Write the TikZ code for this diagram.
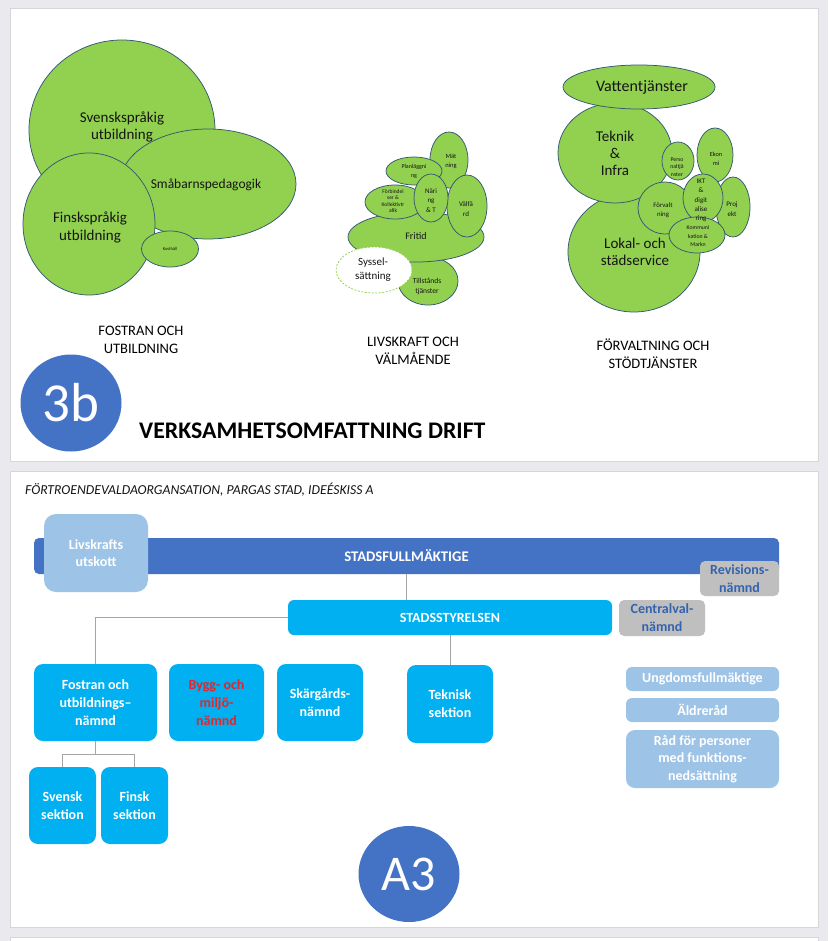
\documentclass[tikz,border=0pt]{standalone}
\usepackage{fontspec}
\setmainfont{Carlito}
\usetikzlibrary{shapes.geometric}
\definecolor{pagebg}{HTML}{EAEAEE}
\definecolor{slideedge}{HTML}{D6D6DA}
\definecolor{grn}{HTML}{92D050}
\definecolor{grnline}{HTML}{355872}
\definecolor{circblue}{HTML}{4472C4}
\definecolor{cyanbox}{HTML}{00B0F0}
\definecolor{lightbox}{HTML}{9DC3E6}
\definecolor{graybox}{HTML}{BFBFBF}
\definecolor{revtext}{HTML}{3463AE}
\definecolor{redtext}{HTML}{E0262E}
\definecolor{conncol}{HTML}{A5A5A5}
\definecolor{inktext}{HTML}{151515}
\newcommand{\fsz}[2]{\fontsize{#1}{#2}\selectfont}
\tikzset{
  blob/.style={ellipse, draw=grnline, fill=grn, line width=0.75pt, inner sep=0pt},
  dashblob/.style={ellipse, draw=grn, fill=white, line width=0.7pt, dash pattern=on 2pt off 1.5pt, inner sep=0pt},
  txt/.style={align=center, inner sep=0pt, text=inktext},
  caption/.style={align=center, inner sep=0pt, text=black, font=\fsz{14.5}{18}},
  badge/.style={ellipse, fill=circblue, inner sep=0pt, text=white},
  orgbox/.style={rectangle, rounded corners=9pt, fill=cyanbox, inner sep=0pt, align=center, text=white, font=\fsz{14}{18}\bfseries},
  lightbox/.style={rectangle, rounded corners=6pt, fill=lightbox, inner sep=0pt, align=center, text=white, font=\fsz{14}{17.5}\bfseries},
  graybox/.style={rectangle, rounded corners=5pt, fill=graybox, inner sep=0pt, align=center, text=revtext, font=\fsz{14}{18}\bfseries},
  conn/.style={draw=conncol, line width=1pt}
}
\begin{document}
\begin{tikzpicture}[x=1pt,y=-1pt]
\useasboundingbox (0,0) rectangle (828,941);
\fill[pagebg] (0,0) rectangle (828,941);
% slides
\filldraw[fill=white, draw=slideedge, line width=0.8pt] (10,8) rectangle (818,461);
\filldraw[fill=white, draw=slideedge, line width=0.8pt] (10,471) rectangle (818,927);
\filldraw[fill=white, draw=slideedge, line width=0.8pt] (10,937) rectangle (818,945);

% ===== Fostran och utbildning =====
\node[blob, minimum width=186pt, minimum height=180pt] (sv) at (122,130) {};
\node[blob, minimum width=176pt, minimum height=110pt] (sm) at (208,184) {};
\node[blob, minimum width=132pt, minimum height=142pt] (fi) at (89,224) {};
\node[blob, minimum width=57pt, minimum height=36pt] (ko) at (170,249) {};
\node[txt, font=\fsz{15}{17}] (svT) at (122,126.5) {Svenskspråkig\\utbildning};
\node[txt, font=\fsz{13.5}{16}] (smT) at (206,185) {Småbarnspedagogik};
\node[txt, font=\fsz{15}{18}] (fiT) at (90,227) {Finskspråkig\\utbildning};
\node[txt, font=\fsz{4.5}{5}] (koT) at (170,249) {Kosthåll};
\node[caption] (cap1) at (141,340) {FOSTRAN OCH\\UTBILDNING};

% ===== Livskraft och välmående =====
\node[blob, minimum width=60pt, minimum height=48pt] (tl) at (428,281) {};
\node[blob, minimum width=136pt, minimum height=50pt] (fr) at (416,237) {};
\node[blob, minimum width=38pt, minimum height=56pt] (mt) at (449,160) {};
\node[blob, minimum width=56pt, minimum height=28pt] (pl) at (414,171) {};
\node[blob, minimum width=40pt, minimum height=62pt] (vf) at (467,206) {};
\node[blob, minimum width=60pt, minimum height=34pt] (fb) at (395,202) {};
\node[blob, minimum width=34pt, minimum height=48pt] (na) at (431,198) {};
\node[dashblob, minimum width=76pt, minimum height=46pt] (sy) at (374,270) {};
\node[txt, font=\fsz{6.5}{9}] (mtT) at (451,161) {Mät\\ning};
\node[txt, font=\fsz{6}{8.5}] (plT) at (414,171.5) {Planläggni\\ng};
\node[txt, font=\fsz{5.5}{6.5}] (fbT) at (393,201) {Förbindel\\ser \&\\Kollektivtr\\afik};
\node[txt, font=\fsz{7}{9.5}] (naT) at (431,200.5) {Näri\\ng\\\& T};
\node[txt, font=\fsz{7}{10}] (vfT) at (466,209) {Välfä\\rd};
\node[txt, font=\fsz{10}{12}] (frT) at (416,236) {Fritid};
\node[txt, font=\fsz{11}{14}] (syT) at (373,270) {Syssel-\\sättning};
\node[txt, font=\fsz{7.5}{10}] (tlT) at (427,286) {Tillstånds\\tjänster};
\node[caption] (cap2) at (413,351) {LIVSKRAFT OCH\\VÄLMÅENDE};

% ===== Förvaltning och stödtjänster =====
\node[blob, minimum width=132pt, minimum height=120pt] (lk) at (634,252) {};
\node[blob, minimum width=114pt, minimum height=100pt] (tk) at (615,153) {};
\node[blob, minimum width=152pt, minimum height=44pt] (va) at (639,87) {};
\node[blob, minimum width=36pt, minimum height=54pt] (ek) at (715,155) {};
\node[blob, minimum width=34pt, minimum height=60pt] (pj) at (733,207) {};
\node[blob, minimum width=32pt, minimum height=38pt] (pe) at (678,161) {};
\node[blob, minimum width=54pt, minimum height=52pt] (fv) at (665,208) {};
\node[blob, minimum width=40pt, minimum height=48pt] (ik) at (703,198) {};
\node[blob, minimum width=56pt, minimum height=36pt] (km) at (697,235) {};
\node[txt, font=\fsz{16}{18}] (vaT) at (642,87) {Vattentjänster};
\node[txt, font=\fsz{15}{17}] (tkT) at (615,153) {Teknik\\\&\\Infra};
\node[txt, font=\fsz{15}{17}] (lkT) at (635,251.5) {Lokal- och\\städservice};
\node[txt, font=\fsz{5.8}{7.5}] (peT) at (677,167) {Perso\\naltjä\\nster};
\node[txt, font=\fsz{6.3}{9}] (ekT) at (716,158.5) {Ekon\\mi};
\node[txt, font=\fsz{6.8}{9}] (fvT) at (663,210.5) {Förvalt\\ning};
\node[txt, font=\fsz{7}{9.2}] (ikT) at (701,200.5) {IKT\\\&\\digit\\alise\\ring};
\node[txt, font=\fsz{7}{10}] (pjT) at (732,209) {Proj\\ekt};
\node[txt, font=\fsz{5.8}{8.5}] (kmT) at (698,236.5) {Kommuni\\kation \&\\Markn};
\node[caption] (cap3) at (653,353.5) {FÖRVALTNING OCH\\STÖDTJÄNSTER};

% badge and title
\node[badge, minimum width=101pt, minimum height=97pt, font=\fsz{55}{60}] (b3) at (71,403) {3b};
\node[anchor=west, inner sep=0pt, font=\fsz{23.8}{26}\bfseries] (title) at (139,431) {VERKSAMHETSOMFATTNING DRIFT};

% ===== Organisation slide =====
\node[anchor=west, inner sep=0pt, font=\fsz{13.7}{15}\itshape, text=inktext] (sub) at (25,490) {FÖRTROENDEVALDAORGANSATION, PARGAS STAD, IDEÉSKISS A};
\node[rectangle, rounded corners=5pt, fill=circblue, minimum width=745pt, minimum height=36pt, inner sep=0pt, text=white, font=\fsz{14.7}{18}\bfseries] (bar) at (406.5,556) {STADSFULLMÄKTIGE};
\node[lightbox, rounded corners=12pt, minimum width=104pt, minimum height=78pt] (lv) at (96,553) {Livskrafts\\utskott};
\node[graybox, minimum width=79pt, minimum height=35pt] (rv) at (739.5,578.5) {Revisions-\\nämnd};
\node[orgbox, rounded corners=6pt, minimum width=324pt, minimum height=35pt] (ss) at (450,617.5) {STADSSTYRELSEN};
\node[graybox, minimum width=86pt, minimum height=36pt] (cv) at (662,618) {Centralval-\\nämnd};
\node[orgbox, minimum width=123pt, minimum height=77pt] (fos) at (95.5,702.5) {Fostran och\\utbildnings--\\nämnd};
\node[orgbox, minimum width=95pt, minimum height=77pt, text=redtext] (byg) at (216.5,702.5) {Bygg- och\\miljö-\\nämnd};
\node[orgbox, minimum width=86pt, minimum height=77pt] (skg) at (320,702.5) {Skärgårds-\\nämnd};
\node[orgbox, minimum width=86pt, minimum height=78pt] (tek) at (450,704) {Teknisk\\sektion};
\node[orgbox, minimum width=67pt, minimum height=77pt] (svs) at (62.5,805.5) {Svensk\\sektion};
\node[orgbox, minimum width=67pt, minimum height=77pt] (fis) at (134.5,805.5) {Finsk\\sektion};
\node[lightbox, minimum width=153pt, minimum height=24pt] (ung) at (702.5,679) {Ungdomsfullmäktige};
\node[lightbox, minimum width=153pt, minimum height=24pt] (ald) at (702.5,710) {Äldreråd};
\node[lightbox, rounded corners=9pt, minimum width=153pt, minimum height=58pt] (rad) at (702.5,759) {Råd för personer\\med funktions-\\nedsättning};
\node[badge, minimum width=101pt, minimum height=96pt, font=\fsz{50}{56}] (a3) at (409,874) {A3};

% connectors
\draw[conn] (bar.south) -- (ss.north -| bar.south);
\draw[conn] (ss.west) -| (fos.north);
\draw[conn] (ss.south) -- (tek.north);
\coordinate (fj) at ([yshift=-13pt]fos.south);
\draw[conn] (fos.south) -- (fj);
\draw[conn] (svs.north) |- (fj) -| (fis.north);
\end{tikzpicture}
\end{document}
